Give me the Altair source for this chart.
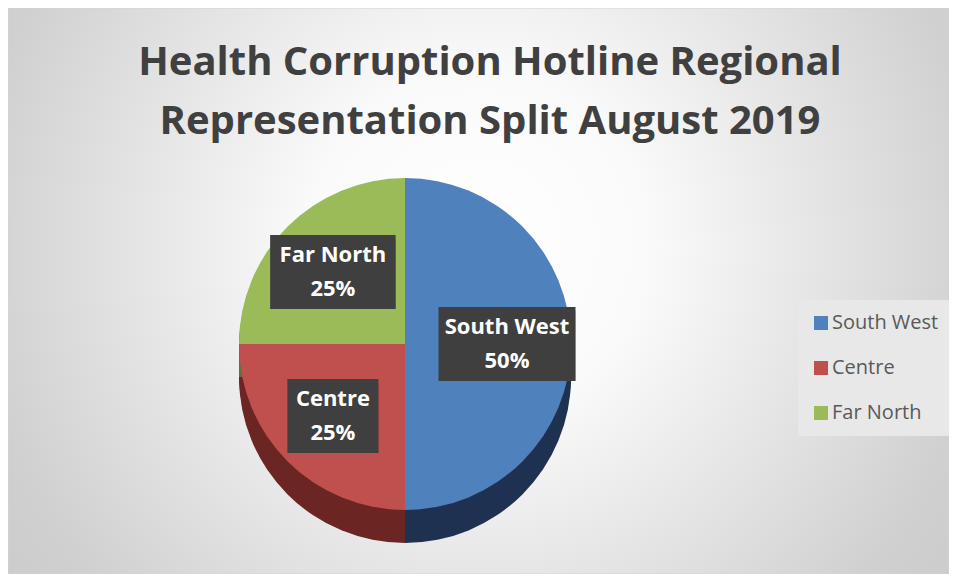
import altair as alt
import pandas as pd

# ---- data ----
REGIONS = ["South West", "Centre", "Far North"]
SHARES = [50, 25, 25]
TITLE_LINES = ["Health Corruption Hotline Regional", "Representation Split August 2019"]

# ---- style ----
COLORS = ["#4F81BD", "#C0504D", "#9BBB59"]
SIDE_COLORS = ["#1F3150", "#6B2624", "#5E7436"]
FONT = "Open Sans"
W, H = 941, 566
CX, CY = 397, 336
R = 166
DEPTH = 33
LR = 102

df = pd.DataFrame({"region": REGIONS, "value": SHARES,
                   "order": list(range(len(REGIONS)))})
base = alt.Chart(df)

theta = alt.Theta("value:Q", stack=True)
order = alt.Order("order:Q")

bg = alt.Chart(alt.Data(values=[{}])).mark_rect(
    fill={"gradient": "radial", "x1": 0.5, "y1": 0.45, "r1": 0,
          "x2": 0.5, "y2": 0.45, "r2": 0.72,
          "stops": [{"offset": 0, "color": "#ffffff"},
                    {"offset": 0.25, "color": "#fafafa"},
                    {"offset": 0.75, "color": "#d0d0d0"},
                    {"offset": 1, "color": "#c6c6c6"}]},
    stroke="#d4d4d4", strokeWidth=1,
).encode(x=alt.value(0), x2=alt.value(W), y=alt.value(0), y2=alt.value(H))

title = alt.Chart(alt.Data(values=[{}])).mark_text(
    text="\n".join(TITLE_LINES), lineBreak="\n", lineHeight=59,
    font=FONT, fontSize=40, fontWeight="bold", color="#404040",
    align="center", baseline="alphabetic",
).encode(x=alt.value(482), y=alt.value(67))

sides = [
    base.mark_arc(radius=R).encode(
        theta=theta, order=order,
        color=alt.Color("region:N", scale=alt.Scale(domain=REGIONS, range=SIDE_COLORS), legend=None),
        x=alt.value(CX), y=alt.value(CY + d),
    )
    for d in range(3, DEPTH + 1, 3)
]

pie = base.mark_arc(radius=R).encode(
    theta=theta, order=order,
    color=alt.Color(
        "region:N",
        scale=alt.Scale(domain=REGIONS, range=COLORS),
        legend=alt.Legend(
            title=None, orient="none", legendX=790, legendY=292,
            symbolType="square", symbolSize=196, symbolStrokeWidth=0,
            labelFont=FONT, labelFontSize=20, labelColor="#595959",
            rowPadding=25, padding=13, fillColor="#e8e8e8", labelOffset=1,
        ),
    ),
    x=alt.value(CX), y=alt.value(CY),
)

lab = base.transform_joinaggregate(total="sum(value)").transform_window(
    cum="sum(value)", sort=[alt.SortField("order")], frame=[None, 0]
).transform_calculate(
    mid="(datum.cum - datum.value/2)/datum.total*2*PI",
).transform_calculate(
    lx=f"{CX} + {LR}*sin(datum.mid)",
    ly=f"{CY} - {LR}*cos(datum.mid)",
    bw="length(datum.region)*11.5 + 22",
).transform_calculate(
    bx1="datum.lx - datum.bw/2", bx2="datum.lx + datum.bw/2",
    by1="datum.ly - 37", by2="datum.ly + 37",
    label="datum.region + '\\n' + format(datum.value/datum.total, '.0%')",
)

shadow = lab.mark_rect(fill="#000000", opacity=0.3, xOffset=3, yOffset=4).encode(
    x=alt.X("bx1:Q", scale=None), x2="bx2:Q",
    y=alt.Y("by1:Q", scale=None), y2="by2:Q",
)
boxes = lab.mark_rect(fill="#3f3f3f").encode(
    x=alt.X("bx1:Q", scale=None), x2="bx2:Q",
    y=alt.Y("by1:Q", scale=None), y2="by2:Q",
)
texts = lab.mark_text(
    lineBreak="\n", lineHeight=34, font=FONT, fontSize=22, fontWeight="bold",
    color="white", align="center", baseline="middle", dy=-17,
).encode(
    x=alt.X("lx:Q", scale=None), y=alt.Y("ly:Q", scale=None), text="label:N",
)

chart = alt.layer(bg, title, *sides, pie, shadow, boxes, texts).resolve_scale(
    color="independent"
).properties(
    width=W, height=H, autosize="none", padding=0
).configure_view(stroke=None)

chart.save("out.html", embed_options={"renderer": "svg", "actions": False})
